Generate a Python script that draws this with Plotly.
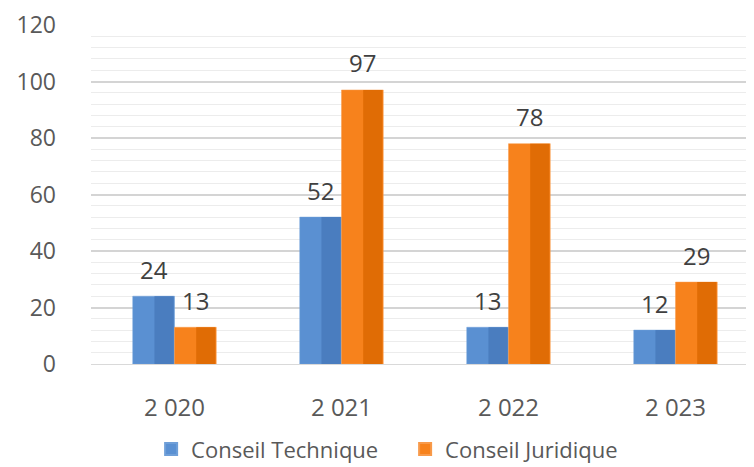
import plotly.graph_objects as go

categories = ["2 020", "2 021", "2 022", "2 023"]
technique = [24, 52, 13, 12]
juridique = [13, 97, 78, 29]
series_names = ["Conseil Technique", "Conseil Juridique"]
y_ticks = [0, 20, 40, 60, 80, 100, 120]

FONT = "'Open Sans', sans-serif"
blue_l, blue_d = "#5A90D2", "#4A7DBF"
orng_l, orng_d = "#F7821C", "#E06C05"

fig = go.Figure()
# main bars (light faces)
fig.add_trace(go.Bar(x=categories, y=technique, name=series_names[0],
                     marker=dict(color=blue_l, line=dict(color="#6F9FD8", width=0.5)),
                     width=0.25, offset=-0.25))
fig.add_trace(go.Bar(x=categories, y=juridique, name=series_names[1],
                     marker=dict(color=orng_l, line=dict(color="#F89A4A", width=0.5)),
                     width=0.25, offset=0))
# darker right halves (bevel shading)
fig.add_trace(go.Bar(x=categories, y=technique, showlegend=False, hoverinfo="skip",
                     marker=dict(color=blue_d, line=dict(width=0)),
                     width=0.115, offset=-0.12))
fig.add_trace(go.Bar(x=categories, y=juridique, showlegend=False, hoverinfo="skip",
                     marker=dict(color=orng_d, line=dict(width=0)),
                     width=0.115, offset=0.13))

# data labels
for vals, shift in ((technique, -21), (juridique, 21)):
    for c, v in zip(categories, vals):
        fig.add_annotation(x=c, y=v, text=str(v), showarrow=False,
                           xshift=shift, yshift=27, yanchor="middle",
                           font=dict(size=24, color="#404040", family=FONT))

# page body adds an 8px offset; margins compensate for it
fig.update_layout(
    width=754, height=467,
    margin=dict(l=83, r=3, t=17, b=111),
    paper_bgcolor="white", plot_bgcolor="white",
    barmode="overlay",
    font=dict(family=FONT, color="#595959", size=23),
    showlegend=True,
    legend=dict(orientation="h", x=0.09, xanchor="left",
                yref="container", y=0.055, yanchor="middle",
                entrywidth=209, entrywidthmode="pixels",
                font=dict(size=22, color="#595959", family=FONT),
                itemsizing="constant", traceorder="normal"),
    xaxis=dict(range=[-0.5, 3.5], showgrid=False, zeroline=False, automargin=False,
               showline=True, linecolor="#d9d9d9", linewidth=1,
               ticks="", tickfont=dict(size=24, color="#595959"),
               ticklabelstandoff=22),
    yaxis=dict(range=[0, 120], tickvals=y_ticks, showgrid=True, automargin=False,
               gridcolor="#d4d4d4", gridwidth=1.5, zeroline=False,
               showline=False, ticks="",
               tickfont=dict(size=23, color="#595959"),
               ticklabelstandoff=34,
               minor=dict(dtick=4, showgrid=True, gridcolor="#ececec", gridwidth=1)),
)

fig.write_html("out.html")
